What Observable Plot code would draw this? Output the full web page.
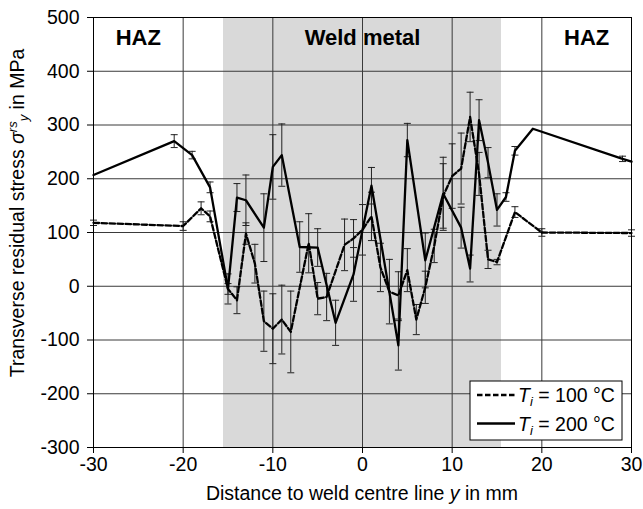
<!DOCTYPE html>
<html>
<head>
<meta charset="utf-8">
<script src="https://cdn.jsdelivr.net/npm/d3@7"></script>
<script src="https://cdn.jsdelivr.net/npm/@observablehq/plot@0.6"></script>
<style>
  body { margin: 0; background: #fff; }
  #chart { width: 643px; height: 509px; }
  svg { font-family: "Liberation Sans", Arial, sans-serif; }
</style>
</head>
<body>
<div id="chart"></div>
<script>
// Transverse residual stress across the weld, two interpass temperatures
const pos100 = [-30,-20,-18,-17,-15,-14,-13,-12,-11,-10,-9,-8,-6,-5,-4,-2,-1,0,1,2,3,4,5,6,7,8,9,10,11,12,13,14,15,17,20,30];
const stress100 = [118,112,145,130,-5,-26,98,42,-65,-79,-62,-85,80,-23,-20,77,89,105,130,35,-10,-17,30,-62,-2,75,168,205,219,315,209,50,45,138,100,99];
const err100 = [5,8,12,10,10,25,20,36,56,65,64,76,55,30,44,48,35,47,45,45,60,44,40,28,30,31,60,60,66,46,40,17,5,10,7,6];

const pos200 = [-30,-21,-19,-17,-15,-14,-13,-11,-10,-9,-7,-5,-3,-1,1,4,5,7,9,11,12,13,14,15,16,17,19,29,30];
const stress200 = [207,270,244,184,-5,165,160,109,222,244,73,72,-68,22,187,-110,272,48,172,109,33,309,230,142,166,252,293,237,232];
const err200 = [0,12,7,10,28,26,47,63,60,58,47,35,42,50,34,46,31,51,68,38,25,38,28,30,8,8,0,5,0];

const weldZone = [-15.5, 15.5];
const zoneLabels = ["HAZ", "Weld metal", "HAZ"];
const zoneCentres = [-25, 0, 25];
const xTicks = [-30, -20, -10, 0, 10, 20, 30];
const yTicks = [-300, -200, -100, 0, 100, 200, 300, 400, 500];
const seriesTemps = ["100 °C", "200 °C"];

const rows = (pos, val, err, s) => pos.map((x, i) => ({x, v: val[i], e: err[i], s}));
const d100 = rows(pos100, stress100, err100, seriesTemps[0]);
const d200 = rows(pos200, stress200, err200, seriesTemps[1]);
const bars = [...d100, ...d200].filter(d => d.e > 0);

// short horizontal stroke used as error-bar cap
const cap = { draw(ctx) { ctx.moveTo(-3.5, 0); ctx.lineTo(3.5, 0); } };

const W = 643, H = 509;
const M = {left: 93, right: 12, top: 17, bottom: 62};
const FS = 19.5;

const chart = Plot.plot({
  width: W, height: H,
  marginLeft: M.left, marginRight: M.right, marginTop: M.top, marginBottom: M.bottom,
  style: {fontFamily: "'Liberation Sans', Arial, sans-serif", fontSize: FS + "px", color: "#000", background: "#fff", overflow: "visible"},
  x: {domain: [-30, 30]},
  y: {domain: [-300, 500]},
  marks: [
    Plot.rect([weldZone], {x1: d => d[0], x2: d => d[1], fill: "#d9d9d9"}),
    Plot.gridX(xTicks, {stroke: "#3a3a3a", strokeOpacity: 1, strokeWidth: 1}),
    Plot.gridY(yTicks, {stroke: "#3a3a3a", strokeOpacity: 1, strokeWidth: 1}),
    Plot.axisX(xTicks, {tickSize: 6, tickPadding: 4, fontSize: FS, label: null, tickFormat: d => String(d)}),
    Plot.axisY(yTicks, {tickSize: 6, tickPadding: 8, fontSize: FS, label: null, tickFormat: d => String(d)}),
    Plot.ruleX(bars, {x: "x", y1: d => d.v - d.e, y2: d => d.v + d.e, stroke: "#222", strokeWidth: 1}),
    Plot.dot(bars, {x: "x", y: d => d.v + d.e, symbol: cap, stroke: "#222", strokeWidth: 1, fill: "none"}),
    Plot.dot(bars, {x: "x", y: d => d.v - d.e, symbol: cap, stroke: "#222", strokeWidth: 1, fill: "none"}),
    Plot.line(d100, {x: "x", y: "v", stroke: "#000", strokeWidth: 2.3, strokeDasharray: "5.5,2.5"}),
    Plot.line(d200, {x: "x", y: "v", stroke: "#000", strokeWidth: 2.3}),
    Plot.text(zoneLabels, {x: (d, i) => zoneCentres[i], y: 462, text: d => d, fontWeight: "bold", fontSize: 22, fill: "#000"}),
    Plot.frame({stroke: "#000", strokeWidth: 1})
  ]
});

document.getElementById("chart").appendChild(chart);

const svg = d3.select(chart);
const font = "'Liberation Sans', Arial, sans-serif";

// y-axis title with σ^rs_y
const yt = svg.append("text")
  .attr("transform", "translate(24,213) rotate(-90)")
  .attr("text-anchor", "middle")
  .attr("font-family", font).attr("font-size", FS).attr("fill", "#000");
yt.append("tspan").text("Transverse residual stress ");
yt.append("tspan").attr("font-style", "italic").text("σ");
yt.append("tspan").attr("font-style", "italic").attr("font-size", 13).attr("dy", -7).text("rs");
yt.append("tspan").attr("font-style", "italic").attr("font-size", 13).attr("dy", 11).text("y");
yt.append("tspan").attr("dy", -4).text(" in MPa");

// x-axis title
const xt = svg.append("text")
  .attr("x", M.left + (W - M.left - M.right) / 2).attr("y", 500)
  .attr("text-anchor", "middle")
  .attr("font-family", font).attr("font-size", FS).attr("fill", "#000");
xt.append("tspan").text("Distance to weld centre line ");
xt.append("tspan").attr("font-style", "italic").text("y");
xt.append("tspan").text(" in mm");

// legend
const lg = svg.append("g").attr("transform", "translate(470,381)");
lg.append("rect").attr("width", 152).attr("height", 59).attr("fill", "#fff").attr("stroke", "#000").attr("stroke-width", 1);
seriesTemps.forEach((t, i) => {
  const yy = 14 + i * 28.5;
  lg.append("line").attr("x1", 7).attr("x2", 45).attr("y1", yy).attr("y2", yy)
    .attr("stroke", "#000").attr("stroke-width", 2.3)
    .attr("stroke-dasharray", i === 0 ? "5.5,2.5" : null);
  const tx = lg.append("text").attr("x", 48).attr("y", yy + 7)
    .attr("text-anchor", "start")
    .attr("font-family", font).attr("font-size", FS).attr("fill", "#000");
  tx.append("tspan").attr("font-style", "italic").text("T");
  tx.append("tspan").attr("font-style", "italic").attr("font-size", 13).attr("dy", 4).text("i");
  tx.append("tspan").attr("dy", -4).text(" = " + t);
});
</script>
</body>
</html>
